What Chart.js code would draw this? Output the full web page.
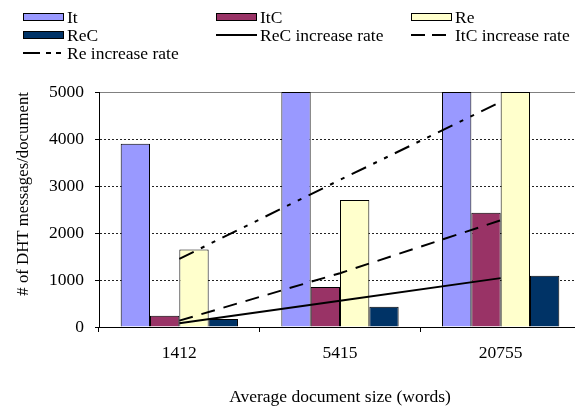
<!DOCTYPE html>
<html><head><meta charset="utf-8">
<script src="https://cdn.jsdelivr.net/npm/chart.js@4/dist/chart.umd.min.js"></script>
<style>
html,body{margin:0;padding:0;overflow:hidden;background:#fff;width:575px;height:408px}
#wrap{position:absolute;left:0;top:0;width:581px;height:408px}
</style>
</head><body><div id="wrap"><canvas id="c" width="581" height="408"></canvas></div>
<script>
// ---- data ----
const categories = ['1412', '5415', '20755'];
const itValues  = [3900, 5000, 5000];
const itcValues = [240, 850, 2430];
const reValues  = [1650, 2700, 5000];
const recValues = [170, 430, 1090];
const recRate = [80, 560, 1040];
const itcRate = [135, 1145, 2270];
const reRate  = [1450, 3130, 4790];
const yTicks = [0, 1000, 2000, 3000, 4000, 5000];
const xTitle = 'Average document size (words)';
const yTitle = '# of DHT messages/document';

const SERIF = "'Liberation Serif', 'Times New Roman', Times, serif";

const legendPlugin = {
  id: 'gridLegend',
  afterDraw(chart) {
    const ctx = chart.ctx;
    const cols = [23, 216, 411], rows = [17, 35, 53];
    chart.data.datasets.forEach((d, i) => {
      const x = cols[i % 3], y = rows[Math.floor(i / 3)];
      ctx.save();
      if (d.type === 'line') {
        ctx.strokeStyle = d.borderColor;
        ctx.lineWidth = d.borderWidth;
        ctx.setLineDash(d.legendDash || []);
        ctx.beginPath();
        ctx.moveTo(x, y);
        ctx.lineTo(x + (d.legendLen || 41), y);
        ctx.stroke();
      } else {
        ctx.fillStyle = d.backgroundColor;
        ctx.fillRect(x, y - 4, 41, 8);
        ctx.strokeStyle = '#000';
        ctx.lineWidth = 1;
        ctx.strokeRect(x + 0.5, y - 3.5, 40, 7);
      }
      ctx.setLineDash([]);
      ctx.fillStyle = '#000';
      ctx.font = '17.5px ' + SERIF;
      ctx.textBaseline = 'middle';
      ctx.textAlign = 'left';
      ctx.fillText(d.label, x + 44, y + 1);
      ctx.restore();
    });
  }
};

const barDs = (label, data, color) => ({
  type: 'bar', label, data, backgroundColor: color, borderColor: '#000',
  borderWidth: 1, order: 1
});
const lineDs = (label, data, dash, legendDash, legendLen) => ({
  type: 'line', label, data, borderColor: '#000', borderWidth: 2,
  borderDash: dash, legendDash, legendLen, pointRadius: 0, fill: false,
  tension: 0, order: 0
});

new Chart(document.getElementById('c'), {
  type: 'bar',
  data: {
    labels: categories,
    datasets: [
      barDs('It', itValues, '#9999FF'),
      barDs('ItC', itcValues, '#993366'),
      barDs('Re', reValues, '#FFFFCC'),
      barDs('ReC', recValues, '#003366'),
      lineDs('ReC increase rate', recRate, [], [], 41),
      lineDs('ItC increase rate', itcRate, [14, 9], [14, 7], 35),
      lineDs('Re increase rate', reRate, [16, 8, 4, 8, 4, 8], [17, 6, 5, 5, 5, 30], 38)
    ]
  },
  options: {
    responsive: false,
    animation: false,
    devicePixelRatio: 1,
    layout: { padding: { top: 92, left: 0, right: 0, bottom: 0 } },
    datasets: { bar: { categoryPercentage: 0.73, barPercentage: 1.0 } },
    plugins: { legend: { display: false }, tooltip: { enabled: false } },
    scales: {
      x: {
        offset: true,
        grid: { drawOnChartArea: false, drawTicks: true, tickLength: 5, tickColor: '#000', offset: true },
        border: { color: '#000', width: 1 },
        ticks: { color: '#000', font: { family: SERIF, size: 17.5 }, padding: 11, maxRotation: 0 },
        title: { display: true, text: xTitle, color: '#000', font: { family: SERIF, size: 17.5 }, padding: { top: 0, bottom: 0 } },
        afterFit(s) { s.height = 81; }
      },
      y: {
        min: 0, max: 5000,
        afterBuildTicks(s) { s.ticks = yTicks.map(v => ({ value: v })); },
        grid: {
          color: c => (c.tick && c.tick.value === 5000) ? '#808080' : '#222',
          tickColor: '#000', tickLength: 4, drawTicks: true
        },
        border: { color: '#000', width: 1, dash: c => (c.tick && c.tick.value === 5000) ? [] : [2, 2] },
        ticks: { color: '#000', font: { family: SERIF, size: 17.5 }, padding: 11, callback: v => String(v) },
        title: { display: true, text: yTitle, color: '#000', align: 'end', font: { family: SERIF, size: 16.8 }, padding: { top: 14, bottom: 0 } },
        afterFit(s) { s.width = 99; }
      }
    }
  },
  plugins: [legendPlugin]
});
</script>
</body></html>
